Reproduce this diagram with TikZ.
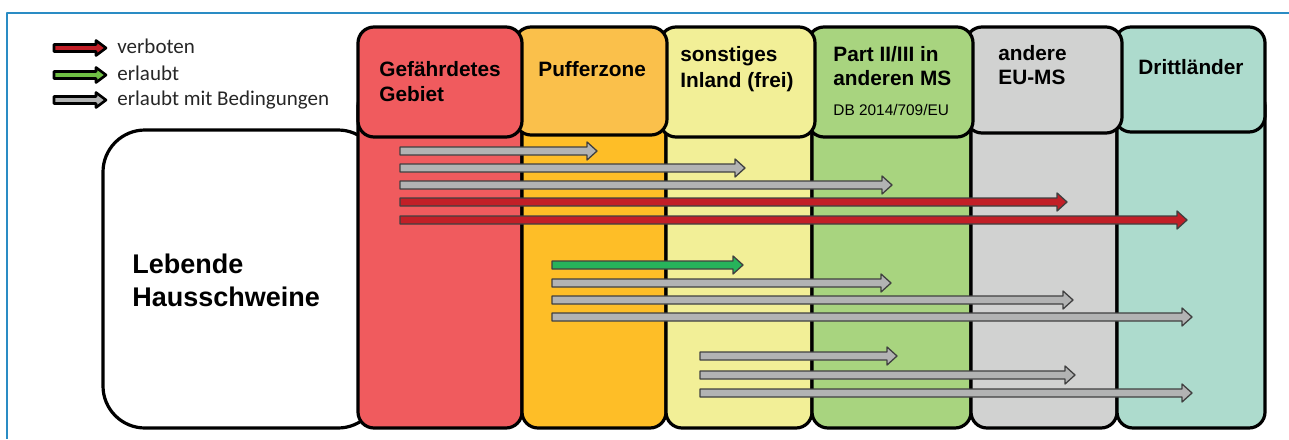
\documentclass[tikz,border=0pt]{standalone}
\usepackage{fontspec}
\setmainfont{Liberation Sans}
\newfontfamily\legendfont{Carlito}
\definecolor{frameblue}{HTML}{2A8CC4}
\definecolor{gefahr}{HTML}{F05B5E}
\definecolor{puffer}{HTML}{FEBE27}
\definecolor{pufferkopf}{HTML}{FAC04B}
\definecolor{inland}{HTML}{F2EF97}
\definecolor{partms}{HTML}{A8D47F}
\definecolor{eums}{HTML}{D1D2D1}
\definecolor{dritt}{HTML}{ADDBCD}
\definecolor{rot}{HTML}{C21F27}
\definecolor{gruen}{HTML}{27B35B}
\definecolor{gruenhell}{HTML}{70BF44}
\definecolor{grau}{HTML}{B2B3B3}
\definecolor{pfeilrand}{HTML}{404040}

\begin{document}
\begin{tikzpicture}[x=0.5pt, y=-0.5pt, line join=round,
  col/.style={draw=black, line width=1.6pt, rounded corners=8pt},
  lbl/.style={anchor=base west, inner sep=0pt, align=left,
    font=\bfseries\fontsize{10.4}{12.5}\selectfont},
  arr/.style={draw=pfeilrand, line width=0.65pt},
  key/.style={draw=black, line width=1.3pt},
  keytext/.style={anchor=base west, inner sep=0pt, text=black!85,
    font=\legendfont\fontsize{10.5}{12}\selectfont}]
  \useasboundingbox (0,0) rectangle (1289,439);
  \draw[frameblue, line width=0.8pt] (1289,13) -- (7,13) -- (7,439);
  % Herkunft
  \draw[col, fill=white, rounded corners=21pt] (103,130) rectangle (380,428);
  \node[lbl, font=\bfseries\fontsize{13.5}{16.5}\selectfont] (schwein) at (132,306)
    {Lebende\\Hausschweine};
  % Spalten
  \foreach \a/\b/\c in {358/522/gefahr, 522/666/puffer, 666/812/inland,
                       812/971/partms, 971/1117/eums, 1117/1265/dritt}
    \draw[col, fill=\c] (\a,90) rectangle (\b,428);
  % Koepfe, von rechts nach links
  \foreach \a/\b/\t/\c in {1115/1265/132/dritt, 966/1122/133/eums,
                           808/973/137/partms, 660/815/137/inland,
                           515/667/135/pufferkopf, 358/522/137/gefahr}
    \draw[col, fill=\c] (\a,27) rectangle (\b,\t);
  \node[lbl] (gefahrtxt) at (379,101) {Gefährdetes\\Gebiet};
  \node[lbl] (puffertxt) at (538,76) {Pufferzone};
  \node[lbl, font=\bfseries\fontsize{10.4}{13}\selectfont] (inlandtxt) at (680,87)
    {sonstiges\\Inland (frei)};
  \node[lbl, font=\bfseries\fontsize{10.4}{11.8}\selectfont] (parttxt) at (833,85)
    {Part II/III in\\anderen MS};
  \node[lbl, font=\fontsize{7.7}{9}\selectfont] (dbtxt) at (833,115) {DB 2014/709/EU};
  \node[lbl, font=\bfseries\fontsize{10.4}{12}\selectfont] (eutxt) at (998,84)
    {andere\\EU-MS};
  \node[lbl] (dritttxt) at (1138,74) {Drittländer};
  % Verbringungen
  \foreach \s/\e/\y/\c in {400/597/151/grau, 400/745/168/grau, 400/892/185/grau,
                           400/1067/202/rot, 400/1187/220/rot,
                           552/743/265/gruen, 552/891/283/grau, 552/1073/300/grau,
                           552/1192/317/grau,
                           700/897/356/grau, 700/1075/375/grau, 700/1192/393/grau}
    \draw[arr, fill=\c] (\s,\y-4) -- (\e-10,\y-4) -- (\e-10,\y-9) -- (\e,\y)
      -- (\e-10,\y+9) -- (\e-10,\y+4) -- (\s,\y+4) -- cycle;
  % Legende
  \foreach \y/\c/\t [count=\i] in {48/rot/verboten, 75/gruenhell/erlaubt,
                                   100/grau/erlaubt mit Bedingungen} {
    \draw[key, fill=\c] (54,\y-3.5) -- (96,\y-3.5) -- (96,\y-7.5) -- (106,\y)
      -- (96,\y+7.5) -- (96,\y+3.5) -- (54,\y+3.5) -- cycle;
    \node[keytext] (key\i) at (117,\y+5) {\t};
  }
\end{tikzpicture}
\end{document}
